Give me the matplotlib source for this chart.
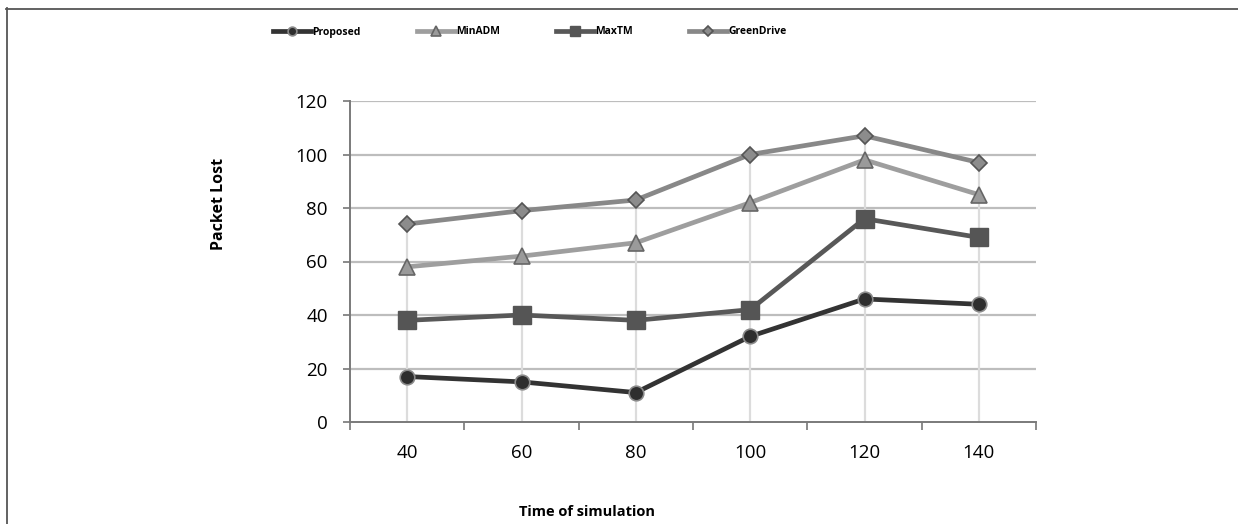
import numpy as np
import matplotlib.pyplot as plt
from matplotlib.lines import Line2D

# data
times = [40, 60, 80, 100, 120, 140]
proposed = [17, 15, 11, 32, 46, 44]
min_adm = [58, 62, 67, 82, 98, 85]
max_tm = [38, 40, 38, 42, 76, 69]
green_drive = [74, 79, 83, 100, 107, 97]

plt.rcParams['font.family'] = ['Open Sans', 'DejaVu Sans']

W, H = 1238, 524
fig = plt.figure(figsize=(W / 100, H / 100), dpi=100)
ax = fig.add_axes([350 / W, 1 - 422 / H, 686 / W, 321 / H])

# frame lines on top and left edge of the picture
fig.add_artist(Line2D([6 / W, 1], [1 - 8.5 / H] * 2, color='#555555', lw=1.3))
fig.add_artist(Line2D([6.5 / W] * 2, [0, 1 - 8 / H], color='#555555', lw=1.3))

x = np.arange(len(times))

# horizontal grid
for v in range(20, 121, 20):
    ax.axhline(v, color='#bdbdbd', lw=1.6, zorder=0)

# drop lines from the highest series down to the axis
top = np.max([proposed, min_adm, max_tm, green_drive], axis=0)
ax.vlines(x, 0, top, color='#dcdcdc', lw=1.6, zorder=1)

ax.plot(x, proposed, color='#333333', lw=3.4, marker='o', ms=10.5,
        mfc='#2e2e2e', mec='#8a8a8a', mew=1.2, label='Proposed', zorder=5)
ax.plot(x, min_adm, color='#9e9e9e', lw=3.4, marker='^', ms=11.5,
        mfc='#9a9a9a', mec='#666666', mew=1.2, label='MinADM', zorder=3)
ax.plot(x, max_tm, color='#585858', lw=3.4, marker='s', ms=12.5,
        mfc='#555555', mec='#555555', mew=1.0, label='MaxTM', zorder=4)
ax.plot(x, green_drive, color='#888888', lw=3.4, marker='D', ms=8.5,
        mfc='#8c8c8c', mec='#555555', mew=1.2, label='GreenDrive', zorder=2)

ax.set_xlim(-0.5, len(times) - 0.5)
ax.set_ylim(0, 120)
ax.set_yticks(range(0, 121, 20))
ax.set_xticks(np.arange(-0.5, len(times)), minor=False)
ax.set_xticklabels([])
ax.set_xticks(x, minor=True)
ax.set_xticklabels([str(t) for t in times], minor=True)
ax.tick_params(axis='x', which='major', length=6, width=1.2, color='#777777', direction='out')
ax.tick_params(axis='x', which='minor', length=0, pad=16, labelsize=13.5)
ax.tick_params(axis='y', length=5, width=1.2, color='#777777', labelsize=13.5, pad=11)

for side in ['top', 'right']:
    ax.spines[side].set_visible(False)
for side in ['left', 'bottom']:
    ax.spines[side].set_color('#7a7a7a')
    ax.spines[side].set_linewidth(1.4)

fig.text(219 / W, 1 - 204 / H, 'Packet Lost', rotation=90, ha='center', va='center',
         fontsize=11.5, fontweight='bold')
fig.text(587 / W, 1 - 512 / H, 'Time of simulation', ha='center', va='center',
         fontsize=10.5, fontweight='bold')

fig.legend(loc='center', bbox_to_anchor=(530 / W, 1 - 32 / H), ncol=4, frameon=False,
           prop={'weight': 'bold', 'size': 7.5}, handlelength=3.6,
           columnspacing=5.4, handletextpad=0.15, markerscale=0.6)

fig.savefig('out.png', dpi=100)
